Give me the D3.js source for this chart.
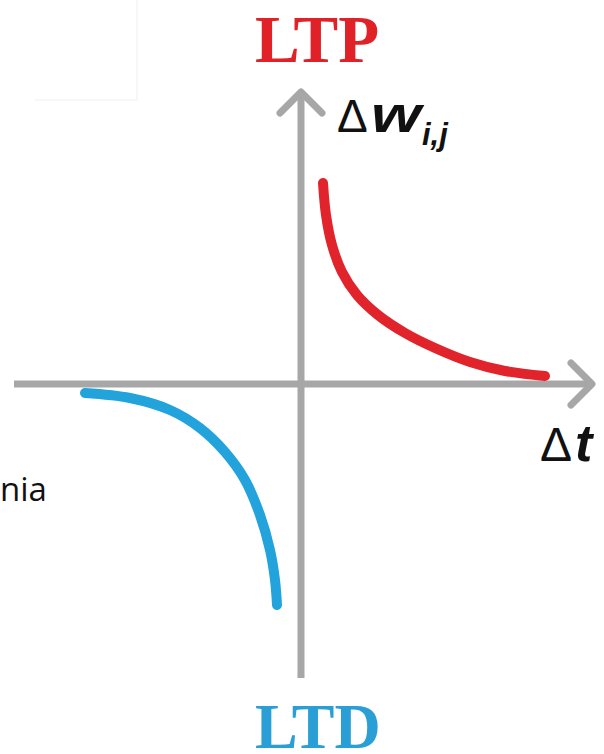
<!DOCTYPE html>
<html>
<head>
<meta charset="utf-8">
<script src="https://cdn.jsdelivr.net/npm/d3@7"></script>
<style>
  html, body { margin: 0; padding: 0; background: #fff; }
  svg { display: block; }
</style>
</head>
<body>
<svg id="chart" width="604" height="754"></svg>
<script>
// STDP window: weight change Δw versus spike timing difference Δt
// Potentiation branch (Δt > 0)
const ltpDt = [4.4, 5.0, 6.2, 8.2, 11.2, 15.4, 20.8, 26.8, 33.8, 40.8, 48.8];
const ltpDw = [1.005, 0.845, 0.695, 0.56, 0.445, 0.345, 0.255, 0.18, 0.11, 0.065, 0.04];
// Depression branch (Δt < 0)
const ltdDt = [-43.2, -34.2, -26.2, -20.2, -15.2, -11.2, -8.2, -6.2, -5.2, -4.8];
const ltdDw = [-0.045, -0.07, -0.13, -0.22, -0.34, -0.48, -0.655, -0.83, -0.98, -1.105];
// Axis extents
const dtExtent = [-57.4, 58.2];
const dwExtent = [-1.47, 1.46];

const svg = d3.select("#chart");
const x = d3.scaleLinear().domain([-60, 60]).range([1, 601]);
const y = d3.scaleLinear().domain([-1.5, 1.5]).range([684, 84]);

const axisColor = "#a7a7a7";
const axisW = 7;

// faint frame remnant at top-left
svg.append("path")
  .attr("d", "M35,100H137V0")
  .attr("fill", "none")
  .attr("stroke", "#f7f7f7")
  .attr("stroke-width", 2);

// horizontal axis (Δt)
svg.append("line")
  .attr("x1", x(dtExtent[0])).attr("x2", x(dtExtent[1]) - 2)
  .attr("y1", y(0)).attr("y2", y(0))
  .attr("stroke", axisColor).attr("stroke-width", axisW);
// vertical axis (Δw)
svg.append("line")
  .attr("x1", x(0)).attr("x2", x(0))
  .attr("y1", y(dwExtent[0])).attr("y2", y(dwExtent[1]) + 2)
  .attr("stroke", axisColor).attr("stroke-width", axisW);

// chevron arrowheads
const head = 21;
svg.append("path")
  .attr("d", `M${x(dtExtent[1]) - head},${y(0) - head}L${x(dtExtent[1])},${y(0)}L${x(dtExtent[1]) - head},${y(0) + head}`)
  .attr("fill", "none").attr("stroke", axisColor).attr("stroke-width", axisW)
  .attr("stroke-linecap", "round").attr("stroke-linejoin", "round");
svg.append("path")
  .attr("d", `M${x(0) - head},${y(dwExtent[1]) + head}L${x(0)},${y(dwExtent[1])}L${x(0) + head},${y(dwExtent[1]) + head}`)
  .attr("fill", "none").attr("stroke", axisColor).attr("stroke-width", axisW)
  .attr("stroke-linecap", "round").attr("stroke-linejoin", "round");

const line = d3.line()
  .x(d => x(d[0]))
  .y(d => y(d[1]))
  .curve(d3.curveCatmullRom.alpha(0.5));

svg.append("path")
  .datum(d3.zip(ltpDt, ltpDw))
  .attr("d", line)
  .attr("fill", "none")
  .attr("stroke", "#e1232b")
  .attr("stroke-width", 10)
  .attr("stroke-linecap", "round");

svg.append("path")
  .datum(d3.zip(ltdDt, ltdDw))
  .attr("d", line)
  .attr("fill", "none")
  .attr("stroke", "#22a3dc")
  .attr("stroke-width", 10)
  .attr("stroke-linecap", "round");

// labels
svg.append("text")
  .attr("x", 255).attr("y", 62)
  .attr("font-family", "Liberation Serif, serif")
  .attr("font-weight", "bold")
  .attr("font-size", 67)
  .attr("fill", "#e02228")
  .text("LTP");

svg.append("text")
  .attr("x", 255).attr("y", 748)
  .attr("font-family", "Liberation Serif, serif")
  .attr("font-weight", "bold")
  .attr("font-size", 64)
  .attr("fill", "#2a9fd6")
  .text("LTD");

const sans = "Liberation Sans, Arial, sans-serif";
svg.append("text")
  .attr("x", 337).attr("y", 132)
  .attr("font-family", sans).attr("font-size", 46)
  .attr("fill", "#111").text("\u0394");
svg.append("text")
  .attr("x", 371).attr("y", 132)
  .attr("font-family", sans).attr("font-size", 50)
  .attr("font-weight", "bold").attr("font-style", "italic")
  .attr("textLength", 50).attr("lengthAdjust", "spacingAndGlyphs")
  .attr("fill", "#111").text("w");
svg.append("text")
  .attr("x", 422).attr("y", 145)
  .attr("font-family", sans).attr("font-size", 31)
  .attr("font-weight", "bold").attr("font-style", "italic")
  .attr("fill", "#111").text("i,j");

svg.append("text")
  .attr("x", 540).attr("y", 461)
  .attr("font-family", sans).attr("font-size", 48)
  .attr("fill", "#111").text("\u0394");
svg.append("text")
  .attr("x", 575).attr("y", 461)
  .attr("font-family", sans).attr("font-size", 52)
  .attr("font-weight", "bold").attr("font-style", "italic")
  .attr("fill", "#111").text("t");

svg.append("text")
  .attr("x", 0).attr("y", 501)
  .attr("font-family", "Open Sans, sans-serif")
  .attr("font-size", 33)
  .attr("fill", "#111")
  .text("nia");
</script>
</body>
</html>
